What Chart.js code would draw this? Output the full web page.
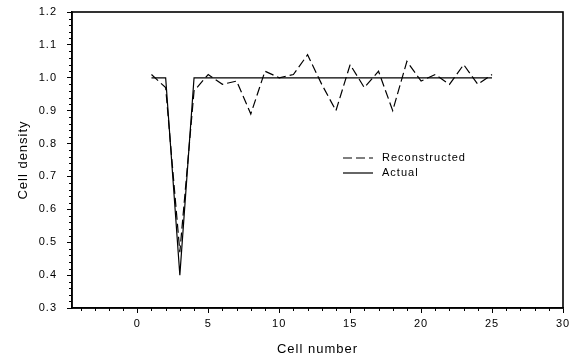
<!DOCTYPE html>
<html><head><meta charset="utf-8">
<script src="https://cdn.jsdelivr.net/npm/chart.js@4/dist/chart.umd.min.js"></script>
<style>html,body{margin:0;padding:0;background:#fff}</style>
</head><body>
<canvas id="c" width="580" height="360" style="width:580px;height:360px;display:block"></canvas>
<script>
// ---- data ----
const cellNumbers   = [1,2,3,4,5,6,7,8,9,10,11,12,13,14,15,16,17,18,19,20,21,22,23,24,25];
const reconstructed = [1.01,0.97,0.47,0.96,1.01,0.98,0.99,0.89,1.02,1.00,1.01,1.07,0.98,0.90,1.04,0.97,1.02,0.90,1.05,0.99,1.01,0.98,1.04,0.98,1.01];
const actual        = [1.00,1.00,0.40,1.00,1.00,1.00,1.00,1.00,1.00,1.00,1.00,1.00,1.00,1.00,1.00,1.00,1.00,1.00,1.00,1.00,1.00,1.00,1.00,1.00,1.00];
const seriesNames   = ['Reconstructed','Actual'];
const xTickLabels   = [0,5,10,15,20,25,30];
const yTickLabels   = [0.3,0.4,0.5,0.6,0.7,0.8,0.9,1.0,1.1,1.2];

const FONT = "Arial, 'Liberation Sans', sans-serif";

const toPoints = ys => cellNumbers.map((x,i)=>({x, y: ys[i]}));

const spacingPlugin = {
  id:'spacing',
  beforeDraw(chart){ chart.ctx.letterSpacing = '1px'; }
};

const minorTicks = {
  id:'minorTicks',
  afterDraw(chart){
    const {ctx, chartArea:a, scales:{x,y}} = chart;
    ctx.save();
    ctx.strokeStyle = '#000'; ctx.lineWidth = 1;
    ctx.beginPath();
    for (let v = Math.ceil(x.min); v <= x.max; v++) {
      if (v % 5 === 0) continue;
      const px = Math.round(x.getPixelForValue(v)) + 0.5;
      ctx.moveTo(px, a.bottom); ctx.lineTo(px, a.bottom + 3);
    }
    for (let k = 15; k <= 60; k++) {
      if (k % 5 === 0) continue;
      const py = Math.round(y.getPixelForValue(k/50)) + 0.5;
      ctx.moveTo(a.left - 3, py); ctx.lineTo(a.left, py);
    }
    ctx.stroke();
    // frame
    ctx.lineWidth = 1.6;
    ctx.strokeRect(a.left, a.top, a.right - a.left, a.bottom - a.top);
    ctx.restore();
  }
};

const legendPlugin = {
  id:'customLegend',
  afterDraw(chart){
    const {ctx} = chart;
    ctx.save();
    ctx.letterSpacing = '1px';
    ctx.font = '11px ' + FONT;
    ctx.fillStyle = '#000';
    ctx.textBaseline = 'middle';
    const x0 = 343, x1 = 373, tx = 382;
    const ys = [158, 173];
    chart.data.datasets.forEach((ds,i)=>{
      ctx.strokeStyle = ds.borderColor; ctx.lineWidth = ds.borderWidth;
      ctx.setLineDash(ds.borderDash || []);
      ctx.beginPath(); ctx.moveTo(x0, ys[i]); ctx.lineTo(x1, ys[i]); ctx.stroke();
      ctx.setLineDash([]);
      ctx.fillText(ds.label, tx, ys[i]);
    });
    ctx.restore();
  }
};

new Chart(document.getElementById('c'), {
  type:'line',
  data:{
    datasets:[
      {label:seriesNames[0], data:toPoints(reconstructed), borderColor:'#000', borderWidth:1.2, borderDash:[9,4], pointRadius:0, tension:0, fill:false},
      {label:seriesNames[1], data:toPoints(actual), borderColor:'#000', borderWidth:1.2, pointRadius:0, tension:0, fill:false}
    ]
  },
  options:{
    responsive:false, animation:false, devicePixelRatio:1,
    layout:{padding:{left:0, top:12, right:17, bottom:0}},
    plugins:{legend:{display:false}, tooltip:{enabled:false}},
    scales:{
      x:{
        type:'linear', min:-4.6, max:30,
        afterFit:s=>{ s.height = 52; s.paddingLeft = 0; s.paddingRight = 0; },
        border:{display:true, color:'#000', width:1.5},
        grid:{display:true, drawOnChartArea:false, drawTicks:true, tickLength:5, tickColor:'#000', tickWidth:1},
        ticks:{stepSize:5, includeBounds:false, autoSkip:false, maxRotation:0, padding:4, color:'#000',
          font:{family:FONT, size:11},
          callback:v => xTickLabels.includes(v) ? String(v) : ''},
        title:{display:true, text:'Cell number', color:'#000', font:{family:FONT, size:13}, padding:{top:0,bottom:3}}
      },
      y:{
        type:'linear', min:0.3, max:1.2,
        afterFit:s=>{ s.width = 72; s.paddingTop = 0; s.paddingBottom = 0; },
        border:{display:true, color:'#000', width:1.5},
        grid:{display:true, drawOnChartArea:false, drawTicks:true, tickLength:5, tickColor:'#000', tickWidth:1},
        ticks:{stepSize:0.1, autoSkip:false, padding:10, color:'#000',
          font:{family:FONT, size:11},
          callback:v => { const r = Math.round(v*10)/10; return yTickLabels.includes(r) ? r.toFixed(1) : ''; }},
        title:{display:true, text:'Cell density', color:'#000', font:{family:FONT, size:13}, padding:{top:16,bottom:0}}
      }
    }
  },
  plugins:[spacingPlugin, minorTicks, legendPlugin]
});
</script>
</body></html>
